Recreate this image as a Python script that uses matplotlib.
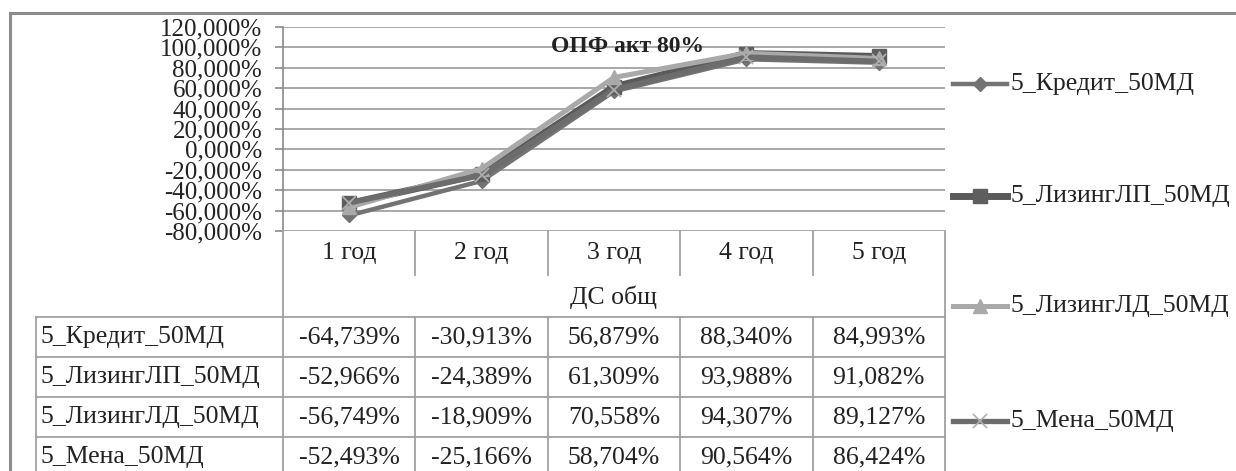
import matplotlib
matplotlib.use("Agg")
import matplotlib.pyplot as plt
from matplotlib.lines import Line2D

plt.rcParams['font.family'] = ['Liberation Serif', 'DejaVu Serif']

# ---- data ----
years = ["1 год", "2 год", "3 год", "4 год", "5 год"]
series_names = ["5_Кредит_50МД", "5_ЛизингЛП_50МД", "5_ЛизингЛД_50МД", "5_Мена_50МД"]
kredit = [-64.739, -30.913, 56.879, 88.340, 84.993]
lizing_lp = [-52.966, -24.389, 61.309, 93.988, 91.082]
lizing_ld = [-56.749, -18.909, 70.558, 94.307, 89.127]
mena = [-52.493, -25.166, 58.704, 90.564, 86.424]
y_ticks = [-80, -60, -40, -20, 0, 20, 40, 60, 80, 100, 120]
title = "ОПФ акт 80%"
group_label = "ДС общ"

all_series = [kredit, lizing_lp, lizing_ld, mena]

# ---- styles ----
styles = [
    dict(color="#737373", marker="D", ms=7, mfc="#737373", mec="#737373", lw=3.2),
    dict(color="#5a5a5a", marker="s", ms=10, mfc="#5e5e5e", mec="#5e5e5e", lw=5.0),
    dict(color="#a9a9a9", marker="^", ms=10, mfc="#a9a9a9", mec="#a9a9a9", lw=3.6),
    dict(color="#6c6c6c", marker="x", ms=10, mfc="#b0b0b0", mec="#b0b0b0", lw=3.8, mew=1.2),
]

TXT = "#222222"
FS = 18.5


def pct(v):
    return f"{v:.3f}%".replace(".", ",")


W, H = 1236, 471
fig = plt.figure(figsize=(W / 100, H / 100), dpi=100)


def rect(x0, y0, x1, y1):
    return [x0 / W, 1 - y1 / H, (x1 - x0) / W, (y1 - y0) / H]


PX0, PX1 = 283, 945
PY_TOP, PY_BOT = 27, 231

ax = fig.add_axes(rect(PX0, PY_TOP, PX1, PY_BOT))
x = list(range(1, len(years) + 1))
for vals, st in zip(all_series, styles):
    ax.plot(x, vals, solid_joinstyle="round", zorder=3, **st)
ax.set_xlim(0.5, len(years) + 0.5)
ax.set_ylim(y_ticks[0], y_ticks[-1])
ax.set_yticks(y_ticks)
ax.set_yticklabels([pct(v) for v in y_ticks], fontsize=18, color=TXT)
ax.set_xticks([])
for v in y_ticks:
    ax.axhline(v, color="#9a9a9a", lw=1.2, zorder=1)
for s in ["top", "right", "bottom"]:
    ax.spines[s].set_visible(False)
ax.spines["left"].set_color("#8a8a8a")
ax.spines["left"].set_linewidth(1.2)
ax.tick_params(axis="y", length=6, width=1.2, color="#8a8a8a", pad=9)
ax.set_facecolor("none")

# ---- overlay for title, table, frame and legend (pixel coordinates) ----
ov = fig.add_axes([0, 0, 1, 1])
ov.set_xlim(0, W)
ov.set_ylim(H, 0)
ov.axis("off")
ov.patch.set_alpha(0)

ov.text(628, 46, title, fontsize=17, fontweight="bold",
        ha="center", va="center", color=TXT)

frame_c = "#8c8c8c"
ov.plot([10, W], [13, 13], color=frame_c, lw=2.2)
ov.plot([10, 10], [13, H], color=frame_c, lw=2.2)

grid_c = "#a0a0a0"
col_edges = [PX0 + i * (PX1 - PX0) / len(years) for i in range(len(years) + 1)]
header_y0, header_y1 = 231, 275
group_y1 = 317
row_h = 40
row_tops = [group_y1 + i * row_h for i in range(len(series_names) + 1)]

# header row separators
for xe in col_edges[1:-1]:
    ov.plot([xe, xe], [header_y0, header_y1], color=grid_c, lw=1.3)
ov.plot([PX0, PX0], [header_y0, H], color=grid_c, lw=1.3)
ov.plot([PX1, PX1], [header_y0, H], color=grid_c, lw=1.3)
for i, yr in enumerate(years):
    ov.text((col_edges[i] + col_edges[i + 1]) / 2, 253, yr, fontsize=FS,
            ha="center", va="center", color=TXT)
ov.text((PX0 + PX1) / 2, 297, group_label, fontsize=FS,
        ha="center", va="center", color=TXT)

# data rows
TX0 = 36
for yt in row_tops:
    ov.plot([TX0, PX1], [yt, yt], color=grid_c, lw=1.3)
ov.plot([TX0, TX0], [group_y1, H], color=grid_c, lw=1.3)
for xe in col_edges[1:-1]:
    ov.plot([xe, xe], [group_y1, H], color=grid_c, lw=1.3)
for r, (name, vals) in enumerate(zip(series_names, all_series)):
    yc = row_tops[r] + row_h / 2
    ov.text(TX0 + 4, yc, name, fontsize=FS, ha="left", va="center", color=TXT)
    for i, v in enumerate(vals):
        ov.text((col_edges[i] + col_edges[i + 1]) / 2, yc, pct(v), fontsize=FS,
                ha="center", va="center", color=TXT)

# legend entries
leg_y = [84, 196, 306, 421]
for name, st, yy in zip(series_names, styles, leg_y):
    ov.add_line(Line2D([953, 1007], [yy, yy], color=st["color"], lw=st["lw"]))
    ov.add_line(Line2D([980], [yy], marker=st["marker"], ms=st["ms"],
                       mfc=st["mfc"], mec=st["mec"], mew=st.get("mew", 1.0), lw=0))
    ov.text(1010, yy, name, fontsize=FS, ha="left", va="center", color=TXT)

fig.savefig("out.png", dpi=100)
